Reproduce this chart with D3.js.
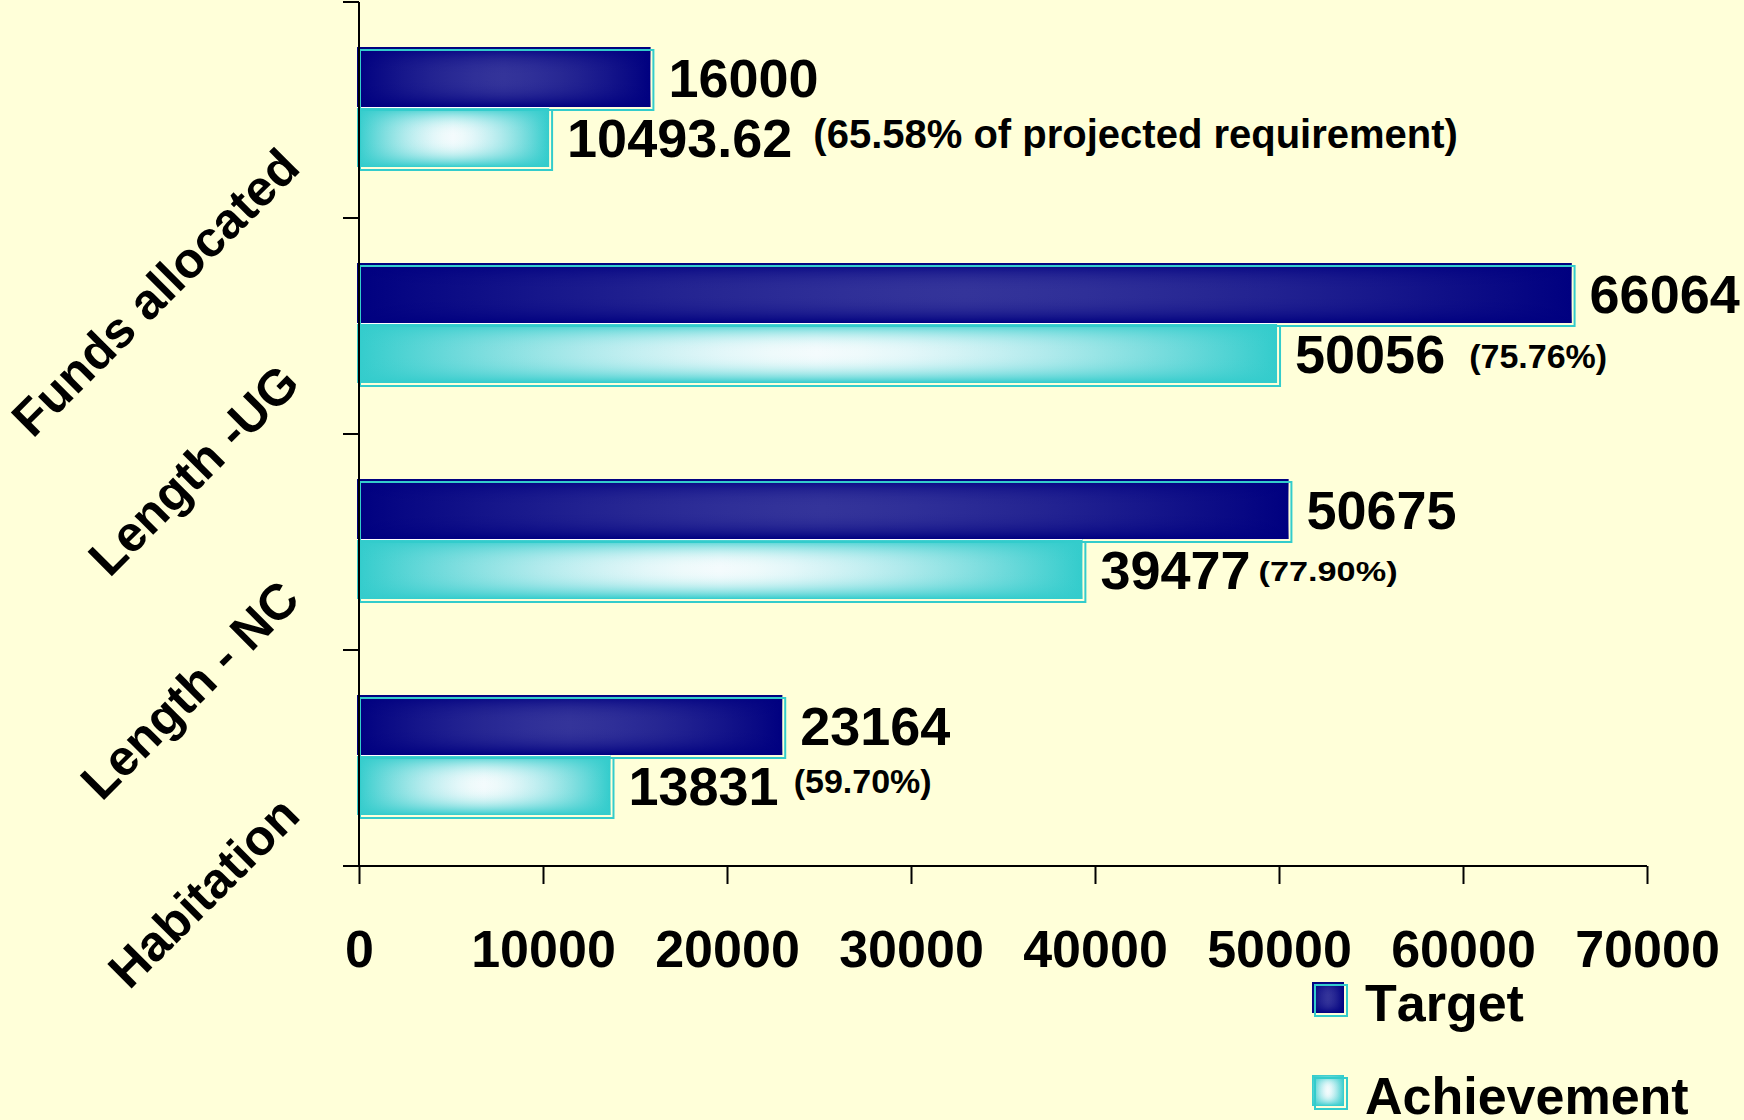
<!DOCTYPE html>
<html>
<head>
<meta charset="utf-8">
<script src="https://cdn.jsdelivr.net/npm/d3@7"></script>
<style>
  html, body { margin: 0; padding: 0; background: #FFFFD9; }
  svg { display: block; }
  text { font-family: "Liberation Sans", Arial, sans-serif; font-weight: bold; fill: #000; font-kerning: none; }
</style>
</head>
<body>
<script>
// ---------------- data ----------------
const categories = ["Funds allocated", "Length -UG", "Length - NC", "Habitation"];
const seriesNames = ["Target", "Achievement"];
const targetValues = [16000, 66064, 50675, 23164];
const achievementValues = [10493.62, 50056, 39477, 13831];
const targetLabels = ["16000", "66064", "50675", "23164"];
const achievementLabels = ["10493.62", "50056", "39477", "13831"];
const percentLabels = ["(65.58% of projected requirement)", "(75.76%)", "(77.90%)", "(59.70%)"];
const xTicks = [0, 10000, 20000, 30000, 40000, 50000, 60000, 70000];

// ---------------- styles ----------------
const W = 1744, H = 1120;
const pctGap = [21, 24, 8, 15];
const pctDy = [-9, -5, -8, -12];
const pctSize = [40, 34, 28, 34];
const pctLen = [null, null, 139, null];

const svg = d3.select("body").append("svg").attr("width", W).attr("height", H);
svg.append("rect").attr("width", W).attr("height", H).attr("fill", "#FFFFD9");

const defs = svg.append("defs");
function makeGrad(id, edge, center) {
  const mix = d3.interpolateRgb(edge, center);
  const h = defs.append("linearGradient").attr("id", id + "H")
    .attr("x1", "0").attr("y1", "0").attr("x2", "1").attr("y2", "0");
  d3.range(0, 21).forEach(i => {
    const o = i / 20, dx = Math.abs(2 * o - 1);
    h.append("stop").attr("offset", o).attr("stop-color", mix(1 - Math.pow(dx, 1.5)));
  });
  const v = defs.append("linearGradient").attr("id", id + "V")
    .attr("x1", "0").attr("y1", "0").attr("x2", "0").attr("y2", "1");
  d3.range(0, 21).forEach(i => {
    const o = i / 20, dy = Math.abs(2 * o - 1);
    v.append("stop").attr("offset", o).attr("stop-color", edge).attr("stop-opacity", Math.pow(dy, 2.5));
  });
}
makeGrad("gT", "#000080", "#34349A");
makeGrad("gA", "#33CCCC", "#F4FBFD");
const gradIds = ["gT", "gA"];
const frameColor = "#33CCCC";

const x = d3.scaleLinear().domain([0, 70000]).range([359, 1647]);
const yOuter = d3.scaleBand().domain(categories).range([2, 866]).padding(0);
const yInner = d3.scaleBand().domain(seriesNames).range([45, 165]).padding(0);

const rows = categories.map((c, i) => ({
  cat: c,
  vals: [targetValues[i], achievementValues[i]],
  labels: [targetLabels[i], achievementLabels[i]],
  pct: percentLabels[i], i
}));

const plot = svg.append("g");
rows.forEach(r => {
  const g = plot.append("g").attr("transform", `translate(0,${yOuter(r.cat)})`);
  seriesNames.forEach((s, k) => {
    const x0 = x(0) - 2, x1 = x(r.vals[k]) - 3, y0 = yInner(s), h = yInner.bandwidth();
    g.append("rect").attr("x", x0).attr("y", y0).attr("width", x1 - x0).attr("height", h)
      .attr("fill", `url(#${gradIds[k]}H)`);
    g.append("rect").attr("x", x0).attr("y", y0).attr("width", x1 - x0).attr("height", h)
      .attr("fill", `url(#${gradIds[k]}V)`);
  });
  // white separator
  const ya = yInner("Achievement");
  g.append("line").attr("x1", x(0) - 2).attr("x2", x(r.vals[1]) - 3)
    .attr("y1", ya + 0.5).attr("y2", ya + 0.5).attr("stroke", "#ffffff").attr("stroke-width", 1.2);
  // offset frames
  seriesNames.forEach((s, k) => {
    const x0 = x(0) - 2, x1 = x(r.vals[k]) - 3, y0 = yInner(s), h = yInner.bandwidth();
    g.append("rect").attr("x", x0 + 3).attr("y", y0 + 3).attr("width", x1 - x0).attr("height", h)
      .attr("fill", "none").attr("stroke", frameColor).attr("stroke-width", 2);
  });
  // value labels
  seriesNames.forEach((s, k) => {
    const t = g.append("text").attr("x", x(r.vals[k]) + 15)
      .attr("y", yInner(s) + yInner.bandwidth() / 2 + 20)
      .attr("font-size", 54).text(r.labels[k]);
    if (k === 1) {
      const end = x(r.vals[k]) + 15 + t.node().getComputedTextLength();
      const p = g.append("text").attr("x", end + pctGap[r.i])
        .attr("y", yInner(s) + yInner.bandwidth() / 2 + 20 + pctDy[r.i])
        .attr("font-size", pctSize[r.i]).text(r.pct);
      if (pctLen[r.i]) p.attr("textLength", pctLen[r.i]).attr("lengthAdjust", "spacingAndGlyphs");
    }
  });
});

// x axis
const xAxis = svg.append("g").attr("transform", "translate(0,866)")
  .call(d3.axisBottom(x).tickValues(xTicks).tickSize(18).tickSizeOuter(0).tickPadding(46)
    .tickFormat(d3.format("d")));
xAxis.select(".domain").attr("stroke", "#000").attr("stroke-width", 2).attr("d", "M343,0H1647");
xAxis.selectAll(".tick line").attr("stroke", "#000").attr("stroke-width", 2);
xAxis.selectAll(".tick text").attr("font-size", 52).attr("font-family", null).attr("fill", "#000")
  .attr("dy", "0").attr("y", 101);

// y axis with boundary ticks
const yLine = svg.append("g");
yLine.append("line").attr("x1", 359).attr("x2", 359).attr("y1", 2).attr("y2", 866)
  .attr("stroke", "#000").attr("stroke-width", 2);
const bounds = categories.map(c => yOuter(c)).concat([yOuter.range()[1]]);
yLine.selectAll("line.tk").data(bounds).join("line").attr("class", "tk")
  .attr("x1", 343).attr("x2", 359).attr("y1", d => d).attr("y2", d => d)
  .attr("stroke", "#000").attr("stroke-width", 2);

// category labels rotated
svg.append("g").selectAll("text").data(categories).join("text")
  .attr("transform", d => `translate(302,${yOuter(d) + yOuter.bandwidth() / 2 + 60}) rotate(-45)`)
  .attr("text-anchor", "end").attr("font-size", 50).text(d => d);

// legend
const leg = svg.append("g");
const legY = [982, 1075];
seriesNames.forEach((s, k) => {
  leg.append("rect").attr("x", 1312).attr("y", legY[k]).attr("width", 32).attr("height", 31)
    .attr("fill", `url(#${gradIds[k]}H)`);
  leg.append("rect").attr("x", 1312).attr("y", legY[k]).attr("width", 32).attr("height", 31)
    .attr("fill", `url(#${gradIds[k]}V)`);
  leg.append("rect").attr("x", 1315).attr("y", legY[k] + 3).attr("width", 32).attr("height", 31)
    .attr("fill", "none").attr("stroke", frameColor).attr("stroke-width", 2);
  leg.append("text").attr("x", 1365).attr("y", legY[k] + 39).attr("font-size", 52).text(s);
});
</script>
</body>
</html>
